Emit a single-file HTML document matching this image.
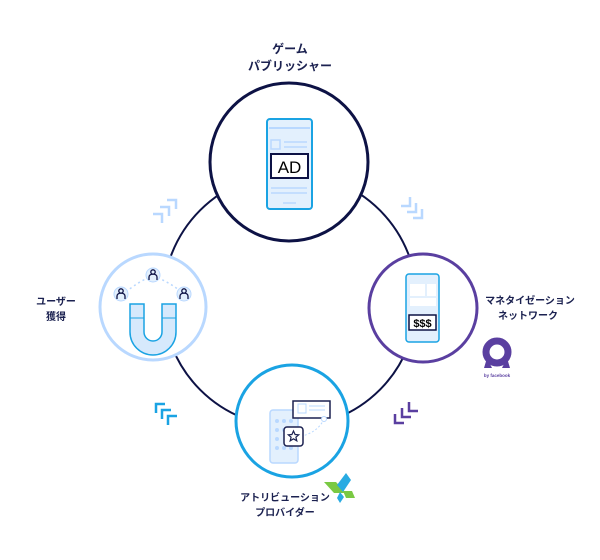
<!DOCTYPE html>
<html><head><meta charset="utf-8"><style>
body{margin:0;background:#fff;width:600px;height:555px;overflow:hidden}
svg text{font-family:"Liberation Sans","Noto Sans CJK JP",sans-serif;font-weight:bold;fill:#1b2150}
</style></head><body>
<svg width="600" height="555" viewBox="0 0 600 555" xmlns="http://www.w3.org/2000/svg">
<circle cx="290" cy="300" r="127" fill="none" stroke="#0d1245" stroke-width="2"/>
<!-- chevrons -->
<g fill="none" stroke="#b9d8ff" stroke-width="2.5">
<path d="M153 214 H162 V223 M160 207 H169 V216 M167 200 H176 V209"/>
<path d="M401 206 H410 V197 M407 212 H416 V203 M413 218 H422 V209"/>
</g>
<g fill="none" stroke="#5a3fa0" stroke-width="2.5">
<path d="M415 402 V411 H424 M408 408 V417 H417 M401 414 V423 H410" transform="translate(-6,0)"/>
</g>
<g fill="none" stroke="#1aa3e3" stroke-width="2.5">
<path d="M156 413 V404 H165 M162 419 V410 H171 M168 425 V416 H177"/>
</g>
<!-- top node -->
<circle cx="289" cy="162" r="79" fill="#fff" stroke="#0d1245" stroke-width="3"/>
<rect x="267" y="119" width="45" height="90" rx="3" fill="#e3f0fd" stroke="#1aa3e3" stroke-width="2"/>
<line x1="269" y1="128" x2="310" y2="128" stroke="#b9d8ff" stroke-width="2"/>
<rect x="271" y="140" width="9" height="9" fill="none" stroke="#b9d8ff" stroke-width="1.5"/>
<line x1="284" y1="142" x2="307" y2="142" stroke="#b9d8ff" stroke-width="1.5"/>
<line x1="284" y1="147" x2="307" y2="147" stroke="#b9d8ff" stroke-width="1.5"/>
<rect x="271" y="154" width="37" height="24" fill="#fff" stroke="#0d1245" stroke-width="2"/>
<text x="289.5" y="173" text-anchor="middle" font-size="17" style="font-weight:normal;fill:#000">AD</text>
<line x1="271" y1="188" x2="307" y2="188" stroke="#b9d8ff" stroke-width="1.5"/>
<line x1="271" y1="193" x2="307" y2="193" stroke="#b9d8ff" stroke-width="1.5"/>
<line x1="283" y1="203" x2="296" y2="203" stroke="#b9d8ff" stroke-width="1.5"/>
<text x="290" y="53" text-anchor="middle" font-size="12">ゲーム</text>
<text x="290" y="70" text-anchor="middle" font-size="12">パブリッシャー</text>
<!-- right node -->
<circle cx="423" cy="308" r="54" fill="#fff" stroke="#5a3fa0" stroke-width="3"/>
<rect x="406" y="274" width="33" height="68" rx="3" fill="#e3f0fd" stroke="#1aa3e3" stroke-width="1.5"/>
<rect x="410" y="284" width="15" height="12" fill="#fff"/><rect x="427" y="284" width="9" height="12" fill="#fff"/>
<rect x="410" y="298" width="26" height="8" fill="#fff"/>
<rect x="409" y="315" width="27" height="15" fill="#fff" stroke="#0d1245" stroke-width="1.5"/>
<text x="422.5" y="327" text-anchor="middle" font-size="11" style="fill:#000">$$$</text>
<text x="530" y="304" text-anchor="middle" font-size="10">マネタイゼーション</text>
<text x="528" y="319" text-anchor="middle" font-size="10">ネットワーク</text>
<circle cx="497" cy="352" r="11" fill="none" stroke="#5a3fa0" stroke-width="7"/>
<path d="M487 358 L484 368 L492 368 Z M507 358 L510 368 L502 368 Z" fill="#5a3fa0"/>
<text x="497" y="377" text-anchor="middle" font-size="4.5" style="fill:#5a3fa0">by facebook</text>
<!-- left node -->
<circle cx="153" cy="307" r="53" fill="#fff" stroke="#b9d8ff" stroke-width="3"/>
<path d="M122 295 Q140 280 153 276 M153 276 Q170 282 184 294" fill="none" stroke="#b9d8ff" stroke-width="1.5" stroke-dasharray="2 3"/>
<g fill="#e3f0fd" stroke="#b9d8ff"><circle cx="153" cy="275" r="7"/><circle cx="121" cy="294" r="7"/><circle cx="184" cy="294" r="7"/></g>
<g fill="none" stroke="#0d1245" stroke-width="1.3">
<circle cx="153" cy="272" r="2.2"/><path d="M149 280 v-3 a4 3 0 0 1 8 0 v3"/>
<circle cx="121" cy="291" r="2.2"/><path d="M117 299 v-3 a4 3 0 0 1 8 0 v3"/>
<circle cx="184" cy="291" r="2.2"/><path d="M180 299 v-3 a4 3 0 0 1 8 0 v3"/>
</g>
<path d="M130 304 L144 304 L144 332 A9 9 0 0 0 162 332 L162 304 L176 304 L176 332 A23 23 0 0 1 130 332 Z" fill="#d6e9fc" stroke="#1aa3e3" stroke-width="1.5"/>
<line x1="130" y1="318" x2="144" y2="318" stroke="#1aa3e3"/><line x1="162" y1="318" x2="176" y2="318" stroke="#1aa3e3"/>
<text x="56" y="305" text-anchor="middle" font-size="10">ユーザー</text>
<text x="56" y="320" text-anchor="middle" font-size="10">獲得</text>
<!-- bottom node -->
<circle cx="292" cy="421" r="56" fill="#fff" stroke="#1aa3e3" stroke-width="3"/>
<rect x="270" y="410" width="28" height="53" rx="3" fill="#e3f0fd" stroke="#b9d8ff" stroke-width="1.5"/>
<g fill="#b9d8ff"><circle cx="277" cy="421" r="2"/><circle cx="284" cy="421" r="2"/><circle cx="291" cy="421" r="2"/><circle cx="277" cy="430" r="2"/><circle cx="284" cy="430" r="2"/><circle cx="277" cy="439" r="2"/><circle cx="277" cy="448" r="2"/><circle cx="284" cy="448" r="2"/><circle cx="291" cy="448" r="2"/></g>
<rect x="293" y="401" width="37" height="17" fill="#fff" stroke="#1b2150" stroke-width="1.5"/>
<rect x="298" y="404" width="8" height="9" fill="none" stroke="#b9d8ff"/>
<line x1="309" y1="406" x2="325" y2="406" stroke="#b9d8ff"/><line x1="309" y1="410" x2="325" y2="410" stroke="#b9d8ff"/>
<path d="M324 419 Q318 432 302 436" fill="none" stroke="#b9d8ff" stroke-dasharray="2 2"/>
<circle cx="324" cy="419" r="2.5" fill="#fff" stroke="#b9d8ff"/>
<rect x="284" y="427" width="19" height="19" rx="3" fill="#fff" stroke="#1b2150" stroke-width="1.5"/>
<path d="M293.5 431 l1.6 3.5 3.6 .3 -2.8 2.4 .9 3.6 -3.3 -2 -3.3 2 .9 -3.6 -2.8 -2.4 3.6 -.3 z" fill="none" stroke="#1b2150" stroke-width="1.2"/>
<text x="285" y="501" text-anchor="middle" font-size="10">アトリビューション</text>
<text x="285" y="516" text-anchor="middle" font-size="10">プロバイダー</text>
<path d="M324 482 L336 482 L346 493 L334 493 Z" fill="#7ac943"/>
<path d="M346 473 L351 480 L343 492 L337 485 Z" fill="#29abe2"/>
<path d="M343 491 L352 491 L355 498 L346 498 Z" fill="#7ac943"/>
<path d="M340 492 L344 497 L340 503 L337 498 Z" fill="#29abe2"/>
</svg>
</body></html>
